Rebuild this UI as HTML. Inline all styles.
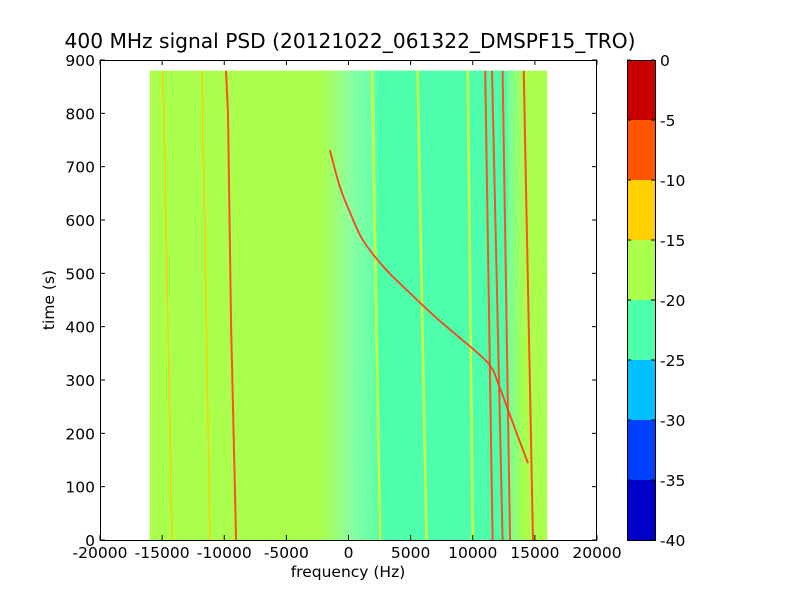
<!DOCTYPE html>
<html><head><meta charset="utf-8"><style>
body{margin:0;background:#fff}
svg text{font-family:"DejaVu Sans","Liberation Sans",sans-serif}
</style></head><body>
<svg id="c" width="800" height="600">
<defs>
<linearGradient id="fz" x1="0" x2="1" y1="0" y2="0">
<stop offset="0" stop-color="#aaff4d"/><stop offset="0.5" stop-color="#8cffa0"/><stop offset="1" stop-color="#60ffaa"/>
</linearGradient>
<linearGradient id="fz2" x1="0" x2="1" y1="0" y2="0">
<stop offset="0" stop-color="#70ffa0"/><stop offset="1" stop-color="#aaff4d"/>
</linearGradient>
</defs>
<rect x="0" y="0" width="800" height="600" fill="#fff"/>
<g id="plot"></g>
<text x="350" y="48" font-size="20.2" text-anchor="middle">400 MHz signal PSD (20121022_061322_DMSPF15_TRO)</text>
<text x="348" y="577" font-size="15.5" text-anchor="middle">frequency (Hz)</text>
<text x="54" y="300" font-size="15.5" text-anchor="middle" transform="rotate(-90 54 300)">time (s)</text>
</svg>
<script>
const xTicks=[-20000,-15000,-10000,-5000,0,5000,10000,15000,20000];
const yTicks=[0,100,200,300,400,500,600,700,800,900];
const cbTicks=[0,-5,-10,-15,-20,-25,-30,-35,-40];
const cbColors=["#0000c8","#0040ff","#00c0ff","#4dffaa","#aaff4d","#ffd000","#ff5500","#c80000"];
const dataRange=[-16000,16000,0,880];
const teal=[2300,12800];
const fuzzyL=[-2200,2300];
const fuzzyR=[12800,14100];
const lineYellow1=[[880,-14930],[0,-14200]];
const lineYellow2=[[880,-11790],[0,-11150]];
const lineRedA=[[880,-9860],[800,-9700],[400,-9450],[0,-9050]];
const lineY3=[[880,1900],[0,2550]];
const lineY4=[[880,5560],[0,6280]];
const lineY5=[[880,9600],[0,10000]];
const lineR1=[[880,11000],[0,11600]];
const lineR2=[[880,11550],[0,12400]];
const lineR3=[[880,12400],[0,13000]];
const lineR4=[[880,14100],[0,14850]];
const chirp=[[731,-1500],[662,-690],[610,200],[562,1170],[510,2900],[463,4950],[420,6900],[388,8500],[332,11230],[290,12100],[244,12840],[190,13700],[144,14450]];

const X=f=>348.5+f*497/40000;
const Y=t=>540-t*480/900;
const NS="http://www.w3.org/2000/svg";
const g=document.getElementById('plot');
function mk(tag,attrs,p){const e=document.createElementNS(NS,tag);for(const k in attrs)e.setAttribute(k,attrs[k]);(p||g).appendChild(e);return e;}

let e=mk('rect',{x:X(dataRange[0]),y:Y(dataRange[3]),width:X(dataRange[1])-X(dataRange[0]),height:Y(0)-Y(dataRange[3]),fill:"#aaff4d"});


e=mk('rect',{x:X(fuzzyL[0]),y:Y(dataRange[3]),width:X(fuzzyL[1])-X(fuzzyL[0]),height:Y(0)-Y(dataRange[3]),fill:"url(#fz)"});


e=mk('rect',{x:X(teal[0]),y:Y(dataRange[3]),width:X(teal[1])-X(teal[0]),height:Y(0)-Y(dataRange[3]),fill:"#4dffaa"});


e=mk('rect',{x:X(fuzzyR[0]),y:Y(dataRange[3]),width:X(fuzzyR[1])-X(fuzzyR[0]),height:Y(0)-Y(dataRange[3]),fill:"url(#fz2)"});



function line(pts,color,w,name,smooth){
  const P=pts.map(p=>[X(p[1]),Y(p[0])]);
  let d='M'+P[0][0].toFixed(1)+','+P[0][1].toFixed(1);
  for(let i=1;i<P.length;i++){
    if(smooth){
      const p0=P[Math.max(0,i-2)],p1=P[i-1],p2=P[i],p3=P[Math.min(P.length-1,i+1)];
      const c1=[p1[0]+(p2[0]-p0[0])/6,p1[1]+(p2[1]-p0[1])/6];
      const c2=[p2[0]-(p3[0]-p1[0])/6,p2[1]-(p3[1]-p1[1])/6];
      d+='C'+c1.map(v=>v.toFixed(1)).join(',')+' '+c2.map(v=>v.toFixed(1)).join(',')+' '+p2.map(v=>v.toFixed(1)).join(',');
    } else d+='L'+P[i][0].toFixed(1)+','+P[i][1].toFixed(1);
  }
  const el=mk('path',{d:d,stroke:color,'stroke-width':w,fill:'none'});
  
  
}
line(lineYellow1,"#ffd000",1.5,'signal-line-yellow-1');
line(lineYellow2,"#ffd000",1.5,'signal-line-yellow-2');
line(lineY3,"#c8ff40",2.5,'signal-line-green-1');
line(lineY4,"#c8ff40",2.5,'signal-line-green-2');
line(lineY5,"#c8ff40",2.5,'signal-line-green-3');
line(lineRedA,"#ff5020",2,'signal-line-red-a');
line(lineR1,"#ff5020",2,'signal-line-red-1');
line(lineR2,"#ff5020",2,'signal-line-red-2');
line(lineR3,"#ff5020",2,'signal-line-red-3');
line(lineR4,"#ff5020",2,'signal-line-red-4');
line(chirp,"#ff4020",1.8,'satellite-chirp',true);

e=mk('rect',{x:100.5,y:60.5,width:496,height:480,fill:'none',stroke:'#000','stroke-width':1});


xTicks.forEach(v=>{
  const x=X(v);
  mk('line',{x1:x,x2:x,y1:540,y2:535,stroke:'#000'});
  mk('line',{x1:x,x2:x,y1:60,y2:65,stroke:'#000'});
  const t=mk('text',{x:x,y:558,'font-size':15.5,'text-anchor':'middle'});t.textContent=v;
  
  
});
yTicks.forEach(v=>{
  const y=Y(v);
  mk('line',{x1:100,x2:105,y1:y,y2:y,stroke:'#000'});
  mk('line',{x1:597,x2:592,y1:y,y2:y,stroke:'#000'});
  const t=mk('text',{x:95,y:y+6,'font-size':15.5,'text-anchor':'end'});t.textContent=v;
  
  
});
const CB=v=>540-(v+40)*480/40;
cbColors.forEach((c,i)=>{
  const r=mk('rect',{x:627,y:CB(-40+5*(i+1)),width:28,height:CB(-40+5*i)-CB(-40+5*(i+1)),fill:c});
  
  
});
e=mk('rect',{x:627.5,y:60.5,width:28,height:480,fill:'none',stroke:'#000'});


cbTicks.forEach(v=>{
  const y=CB(v);
  mk('line',{x1:627,x2:631,y1:y,y2:y,stroke:'#000'});
  mk('line',{x1:655,x2:651,y1:y,y2:y,stroke:'#000'});
  const t=mk('text',{x:660,y:y+6,'font-size':15.5});t.textContent=v;
  
  
});
</script>
</body></html>
